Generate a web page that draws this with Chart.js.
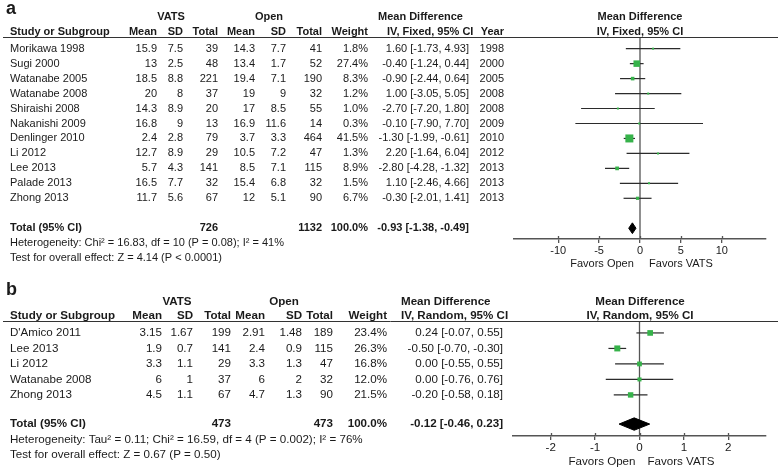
<!DOCTYPE html>
<html>
<head>
<meta charset="utf-8">
<script src="https://cdn.jsdelivr.net/npm/chart.js@4"></script>
<style>
html, body { margin: 0; padding: 0; background: #fff; }
#wrap { position: relative; width: 778px; height: 470px; }
canvas { position: absolute; left: 0; }
</style>
</head>
<body>
<div id="wrap">
  <canvas id="chartA" width="778" height="278" style="top:0"></canvas>
  <canvas id="chartB" width="778" height="190" style="top:280px"></canvas>
</div>
<script>
// forest plots - VATS vs Open

// panel a (fixed effect)
const studiesA = ['Morikawa 1998', 'Sugi 2000', 'Watanabe 2005', 'Watanabe 2008', 'Shiraishi 2008', 'Nakanishi 2009', 'Denlinger 2010', 'Li 2012', 'Lee 2013', 'Palade 2013', 'Zhong 2013'];
const vatsMeanA = [15.9, 13, 18.5, 20, 14.3, 16.8, 2.4, 12.7, 5.7, 16.5, 11.7];
const vatsSdA = [7.5, 2.5, 8.8, 8, 8.9, 9, 2.8, 8.9, 4.3, 7.7, 5.6];
const vatsNA = [39, 48, 221, 37, 20, 13, 79, 29, 141, 32, 67];
const openMeanA = [14.3, 13.4, 19.4, 19, 17, 16.9, 3.7, 10.5, 8.5, 15.4, 12];
const openSdA = [7.7, 1.7, 7.1, 9, 8.5, 11.6, 3.3, 7.2, 7.1, 6.8, 5.1];
const openNA = [41, 52, 190, 32, 55, 14, 464, 47, 115, 32, 90];
const weightA = [1.8, 27.4, 8.3, 1.2, 1.0, 0.3, 41.5, 1.3, 8.9, 1.5, 6.7];
const mdA = [1.60, -0.40, -0.90, 1.00, -2.70, -0.10, -1.30, 2.20, -2.80, 1.10, -0.30];
const loA = [-1.73, -1.24, -2.44, -3.05, -7.20, -7.90, -1.99, -1.64, -4.28, -2.46, -2.01];
const hiA = [4.93, 0.44, 0.64, 5.05, 1.80, 7.70, -0.61, 6.04, -1.32, 4.66, 1.41];
const yearA = [1998, 2000, 2005, 2008, 2008, 2009, 2010, 2012, 2013, 2013, 2013];
const totalNA = [726, 1132];
const totalMdA = [-0.93, -1.38, -0.49];
const ticksA = [-10, -5, 0, 5, 10];
const hetA = 'Heterogeneity: Chi² = 16.83, df = 10 (P = 0.08); I² = 41%';
const testA = 'Test for overall effect: Z = 4.14 (P < 0.0001)';

// panel b (random effects)
const studiesB = ["D'Amico 2011", 'Lee 2013', 'Li 2012', 'Watanabe 2008', 'Zhong 2013'];
const vatsMeanB = [3.15, 1.9, 3.3, 6, 4.5];
const vatsSdB = [1.67, 0.7, 1.1, 1, 1.1];
const vatsNB = [199, 141, 29, 37, 67];
const openMeanB = [2.91, 2.4, 3.3, 6, 4.7];
const openSdB = [1.48, 0.9, 1.3, 2, 1.3];
const openNB = [189, 115, 47, 32, 90];
const weightB = [23.4, 26.3, 16.8, 12.0, 21.5];
const mdB = [0.24, -0.50, 0.00, 0.00, -0.20];
const loB = [-0.07, -0.70, -0.55, -0.76, -0.58];
const hiB = [0.55, -0.30, 0.55, 0.76, 0.18];
const totalNB = [473, 473];
const totalMdB = [-0.12, -0.46, 0.23];
const ticksB = [-2, -1, 0, 1, 2];
const hetB = 'Heterogeneity: Tau² = 0.11; Chi² = 16.59, df = 4 (P = 0.002); I² = 76%';
const testB = 'Test for overall effect: Z = 0.67 (P = 0.50)';

const FONT = '"Liberation Sans", Arial, Helvetica, sans-serif';
const TXT = '#1a1a1a';

function txt(ctx, s, x, y, align, bold, size) {
    ctx.font = (bold ? 'bold ' : '') + (size || 11) + 'px ' + FONT;
    ctx.textAlign = align;
    ctx.textBaseline = 'middle';
    ctx.fillStyle = TXT;
    ctx.fillText(s, x, y);
}

const fmtCI = (m, l, h) => `${m.toFixed(2)} [${l.toFixed(2)}, ${h.toFixed(2)}]`;

function tablePlugin(d, L) {
    return {
        id: 'table',
        afterDraw(chart) {
            const ctx = chart.ctx;
            const ys = chart.scales.y;
            const xs = chart.scales.x;
            const area = chart.chartArea;
            const fs = L.fs;
            ctx.save();

            // panel letter
            txt(ctx, L.letter, 6, L.yLetter, 'left', true, 18);

            // headers
            txt(ctx, 'VATS', L.vatsX, L.yH1, 'center', true, fs);
            txt(ctx, 'Open', L.openX, L.yH1, 'center', true, fs);
            txt(ctx, 'Mean Difference', L.mdHeadX, L.yH1, 'left', true, fs);
            txt(ctx, 'Mean Difference', 640, L.yH1, 'center', true, fs);
            txt(ctx, 'Study or Subgroup', 10, L.yH2, 'left', true, fs);
            const heads = ['Mean', 'SD', 'Total', 'Mean', 'SD', 'Total', 'Weight'];
            heads.forEach((h, k) => txt(ctx, h, L.cols[k], L.yH2, 'right', true, fs));
            txt(ctx, d.method, L.ivHeadX, L.yH2, 'left', true, fs);
            if (d.year) txt(ctx, 'Year', L.cols[8], L.yH2, 'right', true, fs);
            txt(ctx, d.method, 640, L.yH2, 'center', true, fs);

            // header rule
            ctx.strokeStyle = '#333';
            ctx.lineWidth = 1;
            ctx.beginPath();
            ctx.moveTo(3, area.top + 0.5);
            ctx.lineTo(778, area.top + 0.5);
            ctx.stroke();

            // study rows
            d.studies.forEach((s, i) => {
                const y = ys.getPixelForValue(i);
                txt(ctx, s, 10, y, 'left', false, fs);
                const vals = [d.vm[i], d.vs[i], d.vn[i], d.om[i], d.os[i], d.on[i], d.w[i].toFixed(1) + '%', fmtCI(d.md[i], d.lo[i], d.hi[i])];
                vals.forEach((v, k) => txt(ctx, String(v), L.cols[k], y, 'right', false, fs));
                if (d.year) txt(ctx, String(d.year[i]), L.cols[8], y, 'right', false, fs);
            });

            // total row
            const ty = ys.getPixelForValue(L.totRow);
            txt(ctx, 'Total (95% CI)', 10, ty, 'left', true, fs);
            txt(ctx, String(d.totN[0]), L.cols[2], ty, 'right', true, fs);
            txt(ctx, String(d.totN[1]), L.cols[5], ty, 'right', true, fs);
            txt(ctx, '100.0%', L.cols[6], ty, 'right', true, fs);
            txt(ctx, fmtCI(d.totMd[0], d.totMd[1], d.totMd[2]), L.cols[7], ty, 'right', true, fs);

            txt(ctx, d.het, 10, L.yHet, 'left', false, fs);
            txt(ctx, d.test, 10, L.yHet + 15, 'left', false, fs);

            // tick marks crossing the axis
            ctx.strokeStyle = '#555';
            ctx.lineWidth = 1.3;
            d.ticks.forEach(v => {
                const x = Math.round(xs.getPixelForValue(v)) + 0.5;
                ctx.beginPath();
                ctx.moveTo(x, area.bottom - 3);
                ctx.lineTo(x, area.bottom);
                ctx.stroke();
            });

            txt(ctx, 'Favors Open', 602, L.yFav, 'center', false, fs);
            txt(ctx, 'Favors VATS', 681, L.yFav, 'center', false, fs);
            ctx.restore();
        }
    };
}

function buildForest(id, d, L) {
    const wMax = Math.max(...d.w);
    const ciSets = d.studies.map((s, i) => ({
        type: 'line',
        data: [{ x: d.lo[i], y: i }, { x: d.hi[i], y: i }],
        borderColor: '#2b2b2b',
        borderWidth: 1.2,
        pointRadius: 0,
        order: 2
    }));
    const zeroLine = {
        type: 'line',
        data: [{ x: 0, y: L.yMin }, { x: 0, y: L.yMax }],
        borderColor: '#555',
        borderWidth: 1.3,
        pointRadius: 0,
        order: 3
    };
    const squares = {
        type: 'scatter',
        data: d.md.map((m, i) => ({ x: m, y: i })),
        pointStyle: 'rect',
        pointRadius: d.w.map(w => Math.max(2, L.sq * Math.sqrt(w / wMax)) / Math.SQRT2),
        backgroundColor: '#36b24a',
        borderWidth: 0,
        order: 0
    };
    const [tm, tl, th] = d.totMd;
    const ty = L.totRow;
    const diamond = {
        type: 'line',
        data: [{ x: tl, y: ty }, { x: tm, y: ty - L.dia }, { x: th, y: ty }, { x: tm, y: ty + L.dia }, { x: tl, y: ty }],
        borderColor: '#000',
        borderWidth: 1,
        backgroundColor: '#000',
        fill: 'shape',
        pointRadius: 0,
        tension: 0,
        order: 1
    };

    return new Chart(document.getElementById(id), {
        type: 'scatter',
        data: { datasets: [squares, diamond, ...ciSets, zeroLine] },
        options: {
            responsive: false,
            animation: false,
            events: [],
            layout: { padding: { left: L.left, right: 12, top: L.top, bottom: L.bottom } },
            plugins: { legend: { display: false }, tooltip: { enabled: false } },
            scales: {
                x: {
                    type: 'linear',
                    min: -L.xr,
                    max: L.xr,
                    afterBuildTicks: s => { s.ticks = d.ticks.map(v => ({ value: v })); },
                    afterFit: s => { s.height = 30; },
                    grid: { drawOnChartArea: false, tickLength: 4, color: '#555', lineWidth: 1.3 },
                    border: { color: '#555', width: 1.5 },
                    ticks: { font: { size: L.fs, family: FONT }, color: TXT, padding: 1, maxRotation: 0, autoSkip: false }
                },
                y: { type: 'linear', display: false, reverse: true, min: L.yMin, max: L.yMax }
            }
        },
        plugins: [tablePlugin(d, L)]
    });
}

buildForest('chartA', {
    studies: studiesA, vm: vatsMeanA, vs: vatsSdA, vn: vatsNA, om: openMeanA, os: openSdA, on: openNA,
    w: weightA, md: mdA, lo: loA, hi: hiA, year: yearA, totN: totalNA, totMd: totalMdA,
    ticks: ticksA, het: hetA, test: testA, method: 'IV, Fixed, 95% CI'
}, {
    letter: 'a', yLetter: 9, yH1: 17, yH2: 32, fs: 11,
    vatsX: 171, openX: 269, mdHeadX: 378, ivHeadX: 387,
    cols: [157, 183, 218, 255, 286, 322, 368, 469, 504],
    left: 514, top: 37, bottom: 9, xr: 15.4, yMin: -0.78, yMax: 12.72,
    totRow: 12, dia: 0.36, sq: 8, yHet: 243, yFav: 264
});

buildForest('chartB', {
    studies: studiesB, vm: vatsMeanB, vs: vatsSdB, vn: vatsNB, om: openMeanB, os: openSdB, on: openNB,
    w: weightB, md: mdB, lo: loB, hi: hiB, year: null, totN: totalNB, totMd: totalMdB,
    ticks: ticksB, het: hetB, test: testB, method: 'IV, Random, 95% CI'
}, {
    letter: 'b', yLetter: 10, yH1: 22, yH2: 36, fs: 11.6,
    vatsX: 177, openX: 284, mdHeadX: 401, ivHeadX: 401,
    cols: [162, 193, 231, 265, 302, 333, 387, 503],
    left: 513, top: 41, bottom: 4, xr: 2.85, yMin: -0.77, yMax: 6.65,
    totRow: 5.88, dia: 0.4, sq: 6, yHet: 160, yFav: 182
});
</script>
</body>
</html>
